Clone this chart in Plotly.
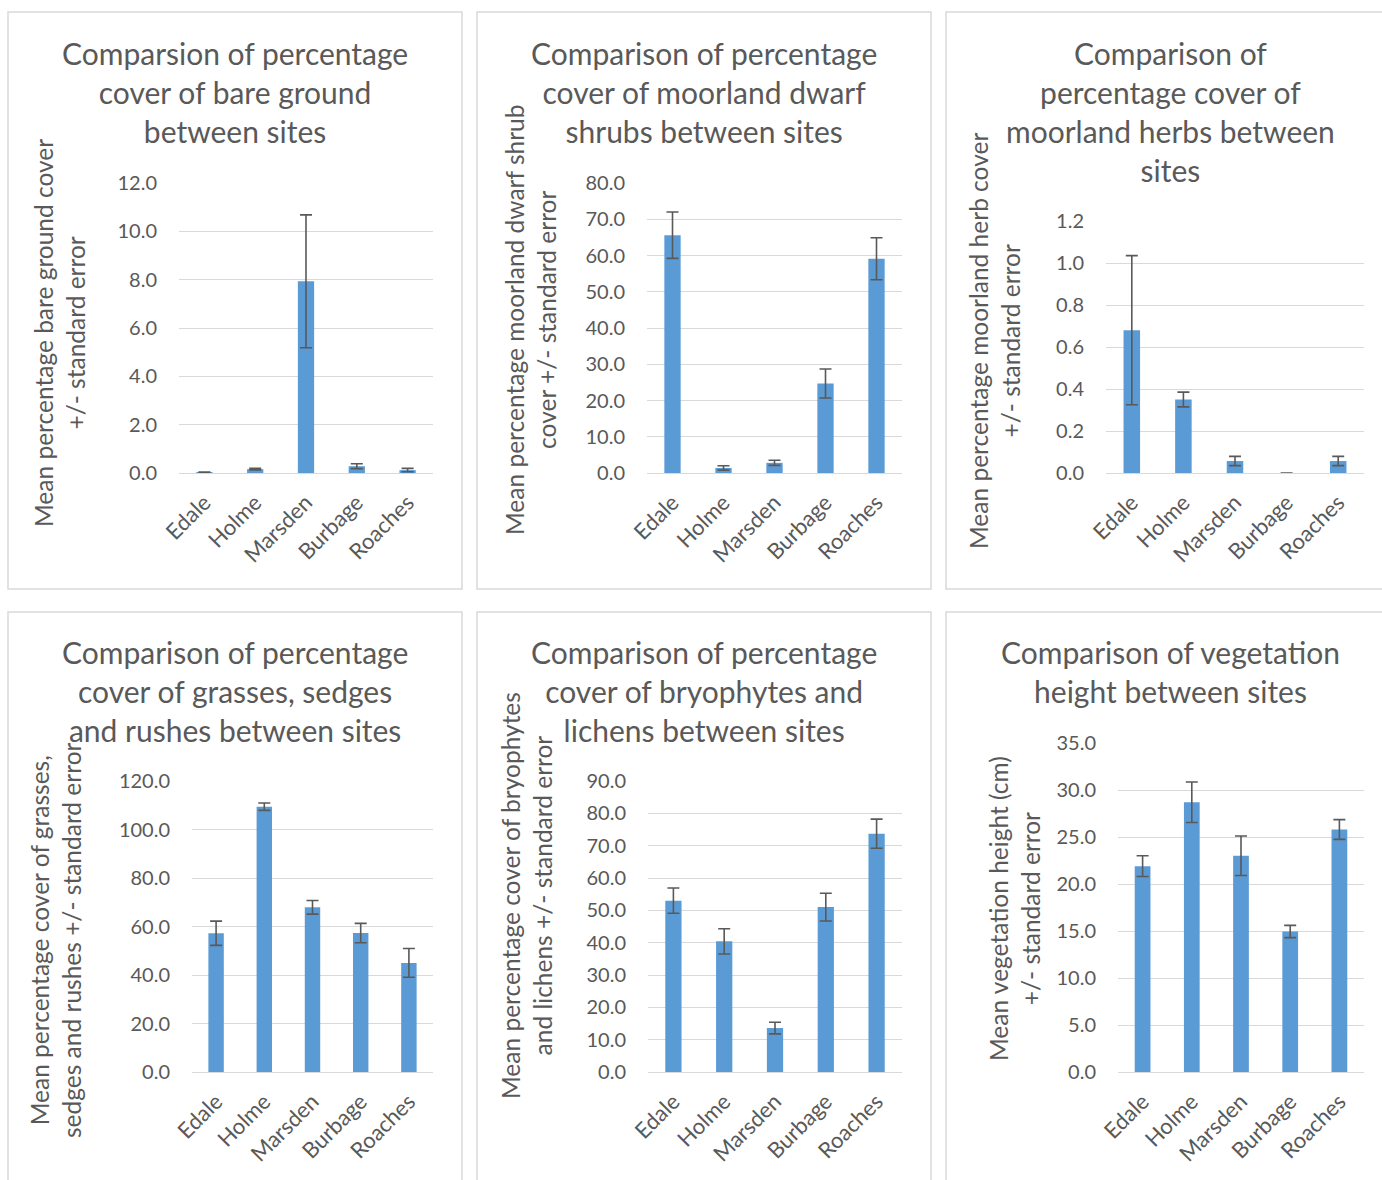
import plotly.graph_objects as go

# Sites surveyed
sites = ["Edale", "Holme", "Marsden", "Burbage", "Roaches"]

# Mean percentage cover / height per site, with standard errors
bare_ground = [0.03, 0.16, 7.93, 0.28, 0.12]
bare_ground_se = [0.01, 0.03, 2.75, 0.10, 0.07]

dwarf_shrubs = [65.6, 1.4, 2.8, 24.7, 59.1]
dwarf_shrubs_se = [6.4, 0.6, 0.7, 4.0, 5.8]

herbs = [0.68, 0.35, 0.057, 0.0, 0.057]
herbs_se = [0.355, 0.035, 0.022, 0.0, 0.022]

grasses = [57.2, 109.4, 67.9, 57.3, 45.0]
grasses_se = [5.0, 1.5, 2.8, 4.0, 5.9]

bryophytes = [53.0, 40.4, 13.6, 51.0, 73.7]
bryophytes_se = [3.9, 3.9, 1.8, 4.3, 4.5]

veg_height = [21.9, 28.7, 23.0, 14.95, 25.8]
veg_height_se = [1.1, 2.15, 2.1, 0.65, 1.05]

W, H = 1382, 1180
FONT = "Lato"
GREY = "#595959"
GRID = "#d9d9d9"
BAR = "#5b9bd5"


def px_x(v):
    return v / W


def px_y(v):
    return 1 - v / H


panels = [
    dict(title="Comparsion of percentage<br>cover of bare ground<br>between sites",
         ytitle="Mean percentage bare ground cover<br>+/- standard error",
         vals=bare_ground, se=bare_ground_se, ymax=12, dtick=2,
         plot=(179, 433, 183, 473), box=(8, 462, 12, 589),
         title_xy=(235, 92), ytitle_xy=(59, 333)),
    dict(title="Comparison of percentage<br>cover of moorland dwarf<br>shrubs between sites",
         ytitle="Mean percentage moorland dwarf shrub<br>cover +/- standard error",
         vals=dwarf_shrubs, se=dwarf_shrubs_se, ymax=80, dtick=10,
         plot=(647, 902, 183, 473), box=(477, 931, 12, 589),
         title_xy=(704, 92), ytitle_xy=(531, 320)),
    dict(title="Comparison of<br>percentage cover of<br>moorland herbs between<br>sites",
         ytitle="Mean percentage moorland herb cover<br>+/- standard error",
         vals=herbs, se=herbs_se, ymax=1.2, dtick=0.2,
         plot=(1106, 1364, 221, 473), box=(946, 1396, 12, 589),
         title_xy=(1170, 111), ytitle_xy=(995, 341)),
    dict(title="Comparison of percentage<br>cover of grasses, sedges<br>and rushes between sites",
         ytitle="Mean percentage cover of grasses,<br>sedges and rushes +/- standard error",
         vals=grasses, se=grasses_se, ymax=120, dtick=20,
         plot=(192, 433, 781, 1072), box=(8, 462, 612, 1190),
         title_xy=(235, 691), ytitle_xy=(55, 940)),
    dict(title="Comparison of percentage<br>cover of bryophytes and<br>lichens between sites",
         ytitle="Mean percentage cover of bryophytes<br>and lichens +/- standard error",
         vals=bryophytes, se=bryophytes_se, ymax=90, dtick=10,
         plot=(648, 902, 781, 1072), box=(477, 931, 612, 1190),
         title_xy=(704, 691), ytitle_xy=(526, 896)),
    dict(title="Comparison of vegetation<br>height between sites",
         ytitle="Mean vegetation height (cm)<br>+/- standard error",
         vals=veg_height, se=veg_height_se, ymax=35, dtick=5,
         plot=(1118, 1364, 743, 1072), box=(946, 1396, 612, 1190),
         title_xy=(1170, 671), ytitle_xy=(1014, 908)),
]

fig = go.Figure()
layout = dict(
    width=W, height=H,
    margin=dict(l=0, r=0, t=0, b=0, pad=0, autoexpand=False),
    paper_bgcolor="white", plot_bgcolor="white",
    showlegend=False,
    font=dict(family=FONT, color=GREY),
    shapes=[], annotations=[],
)

for i, p in enumerate(panels, start=1):
    xa = "x" if i == 1 else f"x{i}"
    ya = "y" if i == 1 else f"y{i}"
    fig.add_trace(go.Bar(
        x=sites, y=p["vals"], xaxis=xa, yaxis=ya,
        marker=dict(color=BAR, line=dict(width=0)),
        error_y=dict(type="data", array=p["se"], visible=True,
                     color=GREY, thickness=1.6, width=6),
        hoverinfo="x+y",
    ))
    x0, x1, y0, y1 = p["plot"]
    xkey = "xaxis" if i == 1 else f"xaxis{i}"
    ykey = "yaxis" if i == 1 else f"yaxis{i}"
    layout[xkey] = dict(
        domain=[px_x(x0), px_x(x1)], anchor=ya, automargin=False,
        showgrid=False, zeroline=False,
        showline=True, linecolor=GRID, linewidth=1,
        ticks="", tickangle=-45,
        tickfont=dict(family=FONT, size=22, color=GREY),
        ticklabelstandoff=7,
    )
    layout[ykey] = dict(
        domain=[px_y(y1), px_y(y0)], anchor=xa, automargin=False,
        range=[0, p["ymax"]], dtick=p["dtick"], tick0=0,
        tickformat=".1f",
        showgrid=True, gridcolor=GRID, gridwidth=1,
        zeroline=False, showline=False, ticks="",
        tickfont=dict(family=FONT, size=20, color=GREY),
        ticklabelstandoff=21,
    )
    bx0, bx1, by0, by1 = p["box"]
    layout["shapes"].append(dict(
        type="rect", xref="paper", yref="paper",
        x0=px_x(bx0), x1=px_x(bx1), y0=px_y(by1), y1=px_y(by0),
        line=dict(color=GRID, width=1.5), fillcolor="rgba(0,0,0,0)",
        layer="below",
    ))
    tx, ty = p["title_xy"]
    layout["annotations"].append(dict(
        text=p["title"], xref="paper", yref="paper",
        x=px_x(tx), y=px_y(ty), xanchor="center", yanchor="middle",
        showarrow=False, align="center",
        font=dict(family=FONT, size=30, color=GREY),
    ))
    ax, ay = p["ytitle_xy"]
    layout["annotations"].append(dict(
        text=p["ytitle"], xref="paper", yref="paper",
        x=px_x(ax), y=px_y(ay), xanchor="center", yanchor="middle",
        showarrow=False, align="center", textangle=-90,
        font=dict(family=FONT, size=24.5, color=GREY),
    ))

layout["bargap"] = 0.68
fig.update_layout(**layout)
fig.write_html("out.html")
